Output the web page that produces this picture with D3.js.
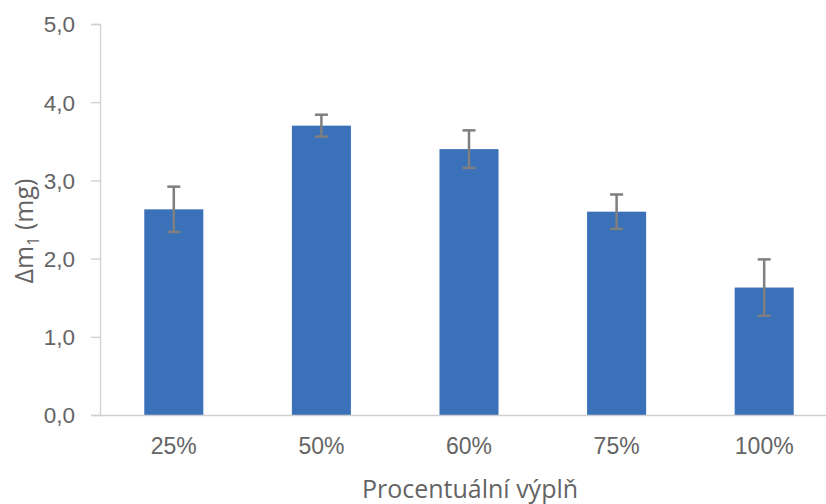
<!DOCTYPE html>
<html>
<head>
<meta charset="utf-8">
<script src="https://cdn.jsdelivr.net/npm/d3@7"></script>
<style>
  html, body { margin: 0; padding: 0; background: #fff; }
  svg { display: block; font-family: "Open Sans", "Liberation Sans", sans-serif; }
</style>
</head>
<body>
<svg id="chart" width="826" height="504"></svg>
<script>
// Mass change per infill percentage, with standard deviations
const categories = ["25%", "50%", "60%", "75%", "100%"];
const values = [2.63, 3.70, 3.40, 2.60, 1.63];
const errors = [0.29, 0.14, 0.24, 0.22, 0.36];
const yTicks = [0, 1, 2, 3, 4, 5];

const svg = d3.select("#chart");
const plotLeft = 100, plotRight = 838, plotTop = 24, plotBottom = 415;

const x = d3.scaleBand().domain(categories).range([plotLeft, plotRight])
  .paddingInner(0.6).paddingOuter(0.3);
const y = d3.scaleLinear().domain([0, 5]).range([plotBottom, plotTop]);

const fmt = d => d.toFixed(1).replace(".", ",");
const textColor = "#646464";
const axisColor = "#D0D0D0";

// Y axis
const yAxis = svg.append("g").attr("transform", `translate(${plotLeft},0)`)
  .call(d3.axisLeft(y).tickValues(yTicks).tickFormat(fmt).tickSize(9).tickPadding(16));
yAxis.select(".domain").attr("stroke", axisColor).attr("stroke-width", 1.3);
yAxis.selectAll(".tick line").attr("stroke", axisColor).attr("stroke-width", 1.3);
yAxis.selectAll("text").attr("fill", textColor).attr("font-size", 22.5).attr("dy", "0.35em");

// Bars
svg.append("g").selectAll("rect").data(categories).join("rect")
  .attr("x", d => x(d))
  .attr("width", x.bandwidth())
  .attr("y", (d, i) => y(values[i]))
  .attr("height", (d, i) => y(0) - y(values[i]))
  .attr("fill", "#3A71B9");

// X axis
const xAxis = svg.append("g").attr("transform", `translate(0,${plotBottom})`)
  .call(d3.axisBottom(x).tickSize(0).tickPadding(23));
xAxis.select(".domain").attr("stroke", axisColor).attr("stroke-width", 1.3);
xAxis.selectAll("text").attr("fill", textColor).attr("font-size", 23);

// Error bars
const eg = svg.append("g").attr("stroke", "#7F7F7F").attr("stroke-width", 2.5);
categories.forEach((c, i) => {
  const cx = x(c) + x.bandwidth() / 2;
  const y1 = y(values[i] + errors[i]);
  const y2 = y(values[i] - errors[i]);
  eg.append("line").attr("x1", cx).attr("x2", cx).attr("y1", y1).attr("y2", y2);
  eg.append("line").attr("x1", cx - 6.5).attr("x2", cx + 6.5).attr("y1", y1).attr("y2", y1);
  eg.append("line").attr("x1", cx - 6.5).attr("x2", cx + 6.5).attr("y1", y2).attr("y2", y2);
});

// Axis titles
svg.append("text")
  .attr("x", 470).attr("y", 498)
  .attr("text-anchor", "middle")
  .attr("fill", textColor).attr("font-size", 25)
  .text("Procentuální výplň");

const yt = svg.append("text")
  .attr("transform", "translate(33,231) rotate(-90)")
  .attr("text-anchor", "middle")
  .attr("fill", textColor).attr("font-size", 25);
yt.append("tspan").text("Δm");
yt.append("tspan").attr("font-size", 16).attr("dy", 6).text("1");
yt.append("tspan").attr("dy", -6).text(" (mg)");
</script>
</body>
</html>
